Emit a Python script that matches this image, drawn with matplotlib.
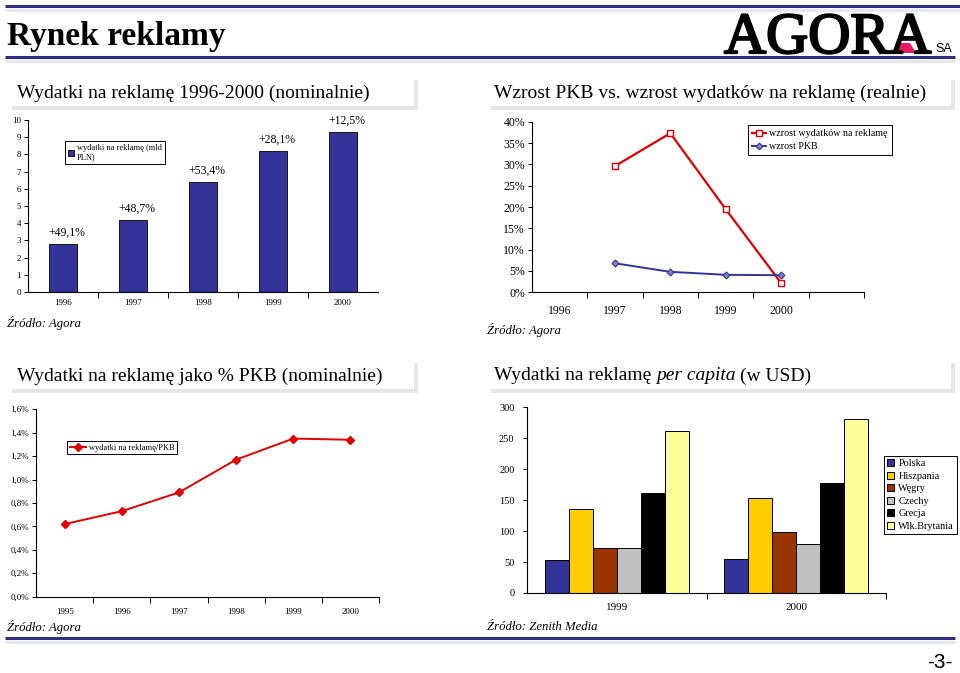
import matplotlib
matplotlib.use('Agg')
import matplotlib.pyplot as plt
from matplotlib.patches import Rectangle, Polygon
from matplotlib.ticker import FuncFormatter
import matplotlib.patheffects as pe

W, H = 960, 673
SERIF = 'Liberation Serif'
SANS = 'Liberation Sans'
plt.rcParams['font.family'] = [SERIF, 'DejaVu Sans']

# ---------------- data ----------------
years1 = ['1996', '1997', '1998', '1999', '2000']
spend = [2.8, 4.2, 6.4, 8.2, 9.3]
growth_labels = ['+49,1%', '+48,7%', '+53,4%', '+28,1%', '+12,5%']

years2 = ['1996', '1997', '1998', '1999', '2000']
ad_growth = [29.6, 37.3, 19.5, 2.2]      # 1997-2000
gdp_growth = [6.8, 4.8, 4.1, 4.0]        # 1997-2000

years3 = ['1995', '1996', '1997', '1998', '1999', '2000']
ad_gdp = [0.62, 0.73, 0.89, 1.17, 1.35, 1.34]

years4 = ['1999', '2000']
countries = ['Polska', 'Hiszpania', 'Węgry', 'Czechy', 'Grecja', 'Wlk.Brytania']
polska = [53, 55]
hiszpania = [136, 154]
wegry = [73, 99]
czechy = [73, 79]
grecja = [162, 177]
wlk_brytania = [261, 281]
country_colors = ['#333399', '#FFCC00', '#993300', '#C0C0C0', '#000000', '#FFFF99']

NAVY = '#333399'

fig = plt.figure(figsize=(W / 100, H / 100), dpi=100)
fig.patch.set_facecolor('white')

bg = fig.add_axes([0, 0, 1, 1])
bg.set_xlim(0, W)
bg.set_ylim(H, 0)
bg.axis('off')


def px_axes(x0, y0, x1, y1):
    ax = fig.add_axes([x0 / W, 1 - y1 / H, (x1 - x0) / W, (y1 - y0) / H])
    ax.set_facecolor('none')
    for s in ['top', 'right']:
        ax.spines[s].set_visible(False)
    for s in ['left', 'bottom']:
        ax.spines[s].set_linewidth(0.8)
    return ax


def fig_anchor(x, y):
    return (x / W, 1 - y / H)


# ---------------- decorations ----------------
for y in (6, 57, 638):
    x1 = 960 if y == 6 else 955
    bg.plot([5, x1], [y + 4, y + 4], color='#E4E7F0', lw=2.0, solid_capstyle='butt')
    bg.plot([5, x1], [y, y], color='#2E2E7E', lw=2.2, solid_capstyle='butt')

bg.text(7, 37, 'Rynek reklamy', fontsize=24, fontweight='bold', family=SERIF,
        va='center', ha='left', color='black')

# AGORA logo
bg.add_patch(Polygon([(892, 53), (916, 53), (910, 43), (898, 43)],
                     closed=True, fc='#E8195F', ec='none', zorder=2))
bg.text(724, 53, 'AGORA', fontsize=42, family=SERIF, va='baseline', ha='left',
        color='black', zorder=3,
        path_effects=[pe.withStroke(linewidth=1.6, foreground='black')])
bg.text(935, 49, 'SA', fontsize=9, family=SANS, va='center', ha='left')

# header boxes
def header(x0, y0, x1, y1):
    bg.add_patch(Rectangle((x0 + 4, y0 + 4), x1 - x0, y1 - y0, fc='#E6E6E6', ec='none'))
    bg.add_patch(Rectangle((x0, y0), x1 - x0, y1 - y0, fc='white', ec='none'))

header(8, 76, 414, 106)
header(487, 76, 951, 106)
header(8, 359, 414, 389)
header(487, 359, 951, 389)

bg.text(17, 93, 'Wydatki na reklamę 1996-2000 (nominalnie)', fontsize=14, va='center')
bg.text(494, 93, 'Wzrost PKB vs. wzrost wydatków na reklamę (realnie)', fontsize=14, va='center')
bg.text(17, 376, 'Wydatki na reklamę jako % PKB (nominalnie)', fontsize=14, va='center')

renderer = fig.canvas.get_renderer()
t1 = bg.text(494, 376, 'Wydatki na reklamę ', fontsize=14, va='center')
bb = t1.get_window_extent(renderer)
t2 = bg.text(bb.x1, 376, 'per capita', fontsize=14, va='center', style='italic')
bb2 = t2.get_window_extent(renderer)
bg.text(bb2.x1 + 4, 376, '(w USD)', fontsize=14, va='center')

# sources
src_kw = dict(fontsize=9.2, style='italic', va='center', ha='left')
bg.text(7, 323, 'Źródło: Agora', **src_kw)
bg.text(487, 330, 'Źródło: Agora', **src_kw)
bg.text(7, 627, 'Źródło: Agora', **src_kw)
bg.text(487, 627, 'Źródło: Zenith Media', **src_kw)

bg.text(953, 662, '-3-', fontsize=15, family=SANS, va='center', ha='right')

# ---------------- chart 1 ----------------
ax1 = px_axes(28, 120, 378, 292)
x1 = list(range(len(years1)))
ax1.bar(x1, spend, width=0.4, color=NAVY, edgecolor='black', linewidth=0.6,
        label='wydatki na reklamę (mld\nPLN)')
for xi, v, lab in zip(x1, spend, growth_labels):
    ax1.text(xi + 0.05, v + 0.3, lab, ha='center', va='bottom', fontsize=8.5)
ax1.set_xlim(-0.5, 4.5)
ax1.set_ylim(0, 10)
ax1.set_yticks(range(0, 11))
ax1.set_xticks(x1, years1)
ax1.set_xticks([0.5, 1.5, 2.5, 3.5], minor=True)
ax1.tick_params(axis='x', which='major', length=0, labelsize=6.5, pad=5)
ax1.tick_params(axis='x', which='minor', length=4, direction='out', width=0.7)
ax1.tick_params(axis='y', length=3, direction='out', labelsize=6.5, pad=2, width=0.7)
ax1.legend(loc='upper left', bbox_to_anchor=fig_anchor(65, 141), bbox_transform=fig.transFigure,
           fancybox=False, edgecolor='black', framealpha=1, fontsize=6,
           handlelength=0.7, handleheight=0.7, handletextpad=0.4, borderpad=0.35,
           borderaxespad=0).get_frame().set_linewidth(0.7)

# ---------------- chart 2 ----------------
ax2 = px_axes(532, 121.7, 864, 292.3)
xa = [1, 2, 3, 4]
ax2.plot(xa, ad_growth, color='#DD0000', lw=1.6, marker='s', ms=4.5, mfc='white',
         mec='#DD0000', mew=1.0, label='wzrost wydatków na reklamę')
ax2.plot(xa, gdp_growth, color=NAVY, lw=1.4, marker='D', ms=3.5, mfc='#8080C0',
         mec=NAVY, mew=0.8, label='wzrost PKB')
ax2.set_xlim(-0.5, 5.5)
ax2.set_ylim(0, 40)
ax2.set_yticks(range(0, 41, 5))
ax2.yaxis.set_major_formatter(FuncFormatter(lambda v, p: f'{int(v)}%'))
ax2.set_xticks(range(len(years2)), years2)
ax2.set_xticks([0.5, 1.5, 2.5, 3.5, 4.5, 5.5], minor=True)
ax2.tick_params(axis='x', which='major', length=0, labelsize=8.5, pad=9)
ax2.tick_params(axis='x', which='minor', length=4, direction='out', width=0.7)
ax2.tick_params(axis='y', length=3, direction='out', labelsize=8.5, pad=2, width=0.7)
ax2.legend(loc='upper left', bbox_to_anchor=fig_anchor(748, 125), bbox_transform=fig.transFigure,
           fancybox=False, edgecolor='black', framealpha=1, fontsize=7.2,
           handlelength=1.4, handletextpad=0.3, borderpad=0.4, labelspacing=0.4,
           borderaxespad=0).get_frame().set_linewidth(0.7)

# ---------------- chart 3 ----------------
ax3 = px_axes(36, 409.3, 379, 596.7)
x3 = list(range(len(years3)))
ax3.plot(x3, ad_gdp, color='#E00000', lw=1.4, marker='D', ms=4, mfc='#E00000',
         mec='#E00000', label='wydatki na reklamę/PKB')
ax3.set_xlim(-0.5, 5.5)
ax3.set_ylim(0, 1.6)
ax3.set_yticks([i * 0.2 for i in range(9)])
ax3.yaxis.set_major_formatter(FuncFormatter(lambda v, p: f'{v:.1f}%'.replace('.', ',')))
ax3.set_xticks(x3, years3)
ax3.set_xticks([0.5, 1.5, 2.5, 3.5, 4.5, 5.5], minor=True)
ax3.tick_params(axis='x', which='major', length=0, labelsize=6.5, pad=8)
ax3.tick_params(axis='x', which='minor', length=4, direction='out', width=0.7)
ax3.tick_params(axis='y', length=3, direction='out', labelsize=6.5, pad=2, width=0.7)
ax3.legend(loc='upper left', bbox_to_anchor=fig_anchor(67, 441), bbox_transform=fig.transFigure,
           fancybox=False, edgecolor='black', framealpha=1, fontsize=6,
           handlelength=2.0, handletextpad=0.3, borderpad=0.3,
           borderaxespad=0).get_frame().set_linewidth(0.7)

# ---------------- chart 4 ----------------
ax4 = px_axes(527, 407.3, 886, 593)
series4 = [polska, hiszpania, wegry, czechy, grecja, wlk_brytania]
n = len(series4)
bw = 0.8 / n
for i, (vals, c, name) in enumerate(zip(series4, country_colors, countries)):
    xs = [g - 0.4 + bw * (i + 0.5) for g in range(len(years4))]
    ax4.bar(xs, vals, width=bw, color=c, edgecolor='black', linewidth=0.7, label=name)
ax4.set_xlim(-0.5, 1.5)
ax4.set_ylim(0, 300)
ax4.set_yticks(range(0, 301, 50))
ax4.set_xticks(range(len(years4)), years4)
ax4.set_xticks([0.5, 1.5], minor=True)
ax4.tick_params(axis='x', which='major', length=0, labelsize=8, pad=7)
ax4.tick_params(axis='x', which='minor', length=4, direction='out', width=0.7)
ax4.tick_params(axis='y', length=3, direction='out', labelsize=7.5, pad=6, width=0.7)
ax4.legend(loc='upper left', bbox_to_anchor=fig_anchor(884, 456), bbox_transform=fig.transFigure,
           fancybox=False, edgecolor='black', framealpha=1, fontsize=7.4,
           handlelength=0.7, handleheight=0.7, handletextpad=0.4, labelspacing=0.32,
           borderpad=0.3, borderaxespad=0).get_frame().set_linewidth(0.7)

fig.savefig('out.png', dpi=100, facecolor='white')
